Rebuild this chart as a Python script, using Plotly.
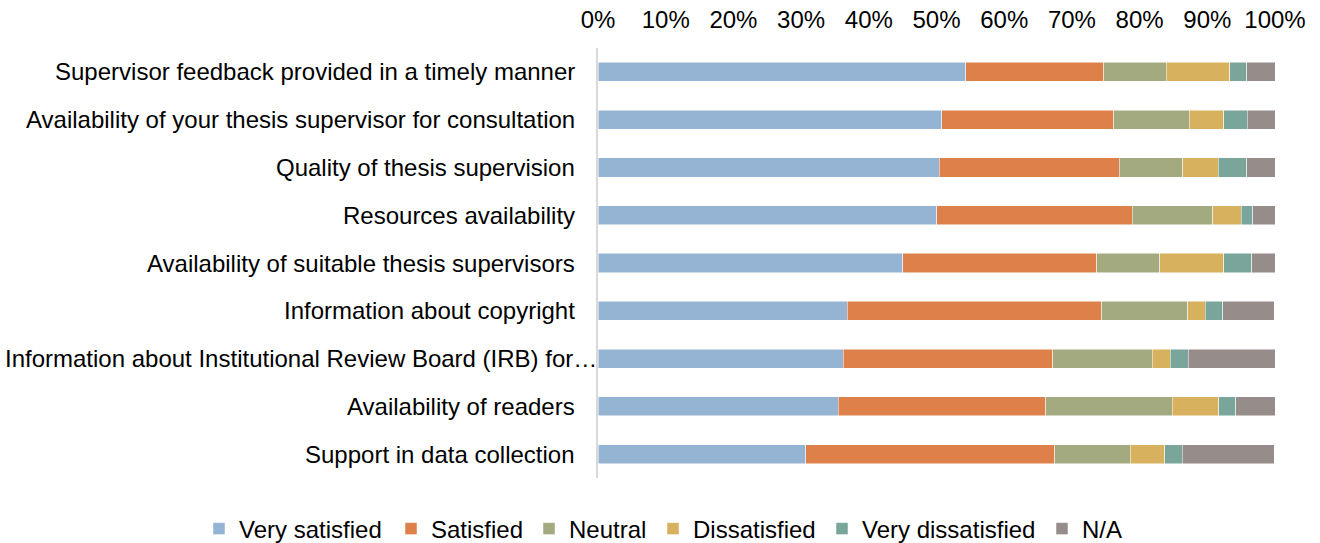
import plotly.graph_objects as go

categories = [
    "Supervisor feedback provided in a timely manner",
    "Availability of your thesis supervisor for consultation",
    "Quality of thesis supervision",
    "Resources availability",
    "Availability of suitable thesis supervisors",
    "Information about copyright",
    "Information about Institutional Review Board (IRB) for…",
    "Availability of readers",
    "Support in data collection",
]

very_satisfied = [54.3, 50.8, 50.4, 50.0, 45.0, 36.8, 36.2, 35.5, 30.7]
satisfied = [20.4, 25.4, 26.6, 28.9, 28.7, 37.6, 31.0, 30.6, 36.8]
neutral = [9.2, 11.1, 9.4, 11.9, 9.3, 12.7, 14.7, 18.7, 11.1]
dissatisfied = [9.4, 5.1, 5.2, 4.2, 9.4, 2.6, 2.6, 6.9, 5.1]
very_dissatisfied = [2.5, 3.5, 4.2, 1.7, 4.2, 2.6, 2.7, 2.5, 2.6]
not_applicable = [4.2, 4.2, 4.3, 3.4, 3.4, 7.6, 12.8, 5.9, 13.6]

series_names = ["Very satisfied", "Satisfied", "Neutral", "Dissatisfied", "Very dissatisfied", "N/A"]
series_values = [very_satisfied, satisfied, neutral, dissatisfied, very_dissatisfied, not_applicable]
colors = ["#95B4D3", "#DD8049", "#A4AA80", "#D8B15E", "#7AA59A", "#968C8A"]

W, H = 1320, 543
font_family = "Liberation Sans, Arial, sans-serif"

# legend text start positions (px) for the one-item legends
legend_text_x = [239, 431, 569, 693, 862, 1082]

fig = go.Figure()
legend_layout = {}
for i, (name, vals, col) in enumerate(zip(series_names, series_values, colors)):
    lname = "legend" if i == 0 else f"legend{i + 1}"
    fig.add_trace(go.Bar(
        y=categories,
        x=[v / 100 for v in vals],
        name=name,
        orientation="h",
        marker=dict(color=col, line=dict(color="white", width=0.5)),
        width=0.4,
        legend=lname,
    ))
    legend_layout[lname] = dict(
        orientation="h",
        x=(legend_text_x[i] - 40) / W, xanchor="left", xref="container",
        y=1 - 529 / H, yanchor="middle", yref="container",
        font=dict(size=24, family=font_family, color="#000000"),
        itemwidth=30,
        bgcolor="rgba(0,0,0,0)",
    )

# category labels as annotations, right-aligned next to the axis
annotations = []
for cat in categories:
    shift = 1 if cat.endswith("…") else -21
    annotations.append(dict(
        x=0, xref="x domain", y=cat, yref="y",
        text=cat, showarrow=False,
        xanchor="right", yanchor="middle", xshift=shift,
        font=dict(size=24, family=font_family, color="#000000"),
    ))

fig.update_layout(
    barmode="stack",
    width=W,
    height=H,
    autosize=False,
    paper_bgcolor="white",
    plot_bgcolor="white",
    margin=dict(l=598, r=45, t=48, b=65, autoexpand=False),
    font=dict(family=font_family, size=24, color="#000000"),
    showlegend=True,
    annotations=annotations,
    xaxis=dict(
        side="top",
        range=[0, 1],
        dtick=0.1,
        tick0=0,
        tickformat=".0%",
        showgrid=False,
        zeroline=False,
        showline=False,
        ticks="",
        ticklabelstandoff=14,
        automargin=False,
        fixedrange=True,
    ),
    yaxis=dict(
        autorange="reversed",
        showline=True,
        linecolor="#D9D9D9",
        linewidth=2,
        showgrid=False,
        ticks="",
        showticklabels=False,
        automargin=False,
        fixedrange=True,
    ),
    **legend_layout,
)

fig.write_html(
    "out.html",
    config={"displayModeBar": False},
    post_script="document.body.style.margin='0';document.body.style.overflow='hidden';",
)
